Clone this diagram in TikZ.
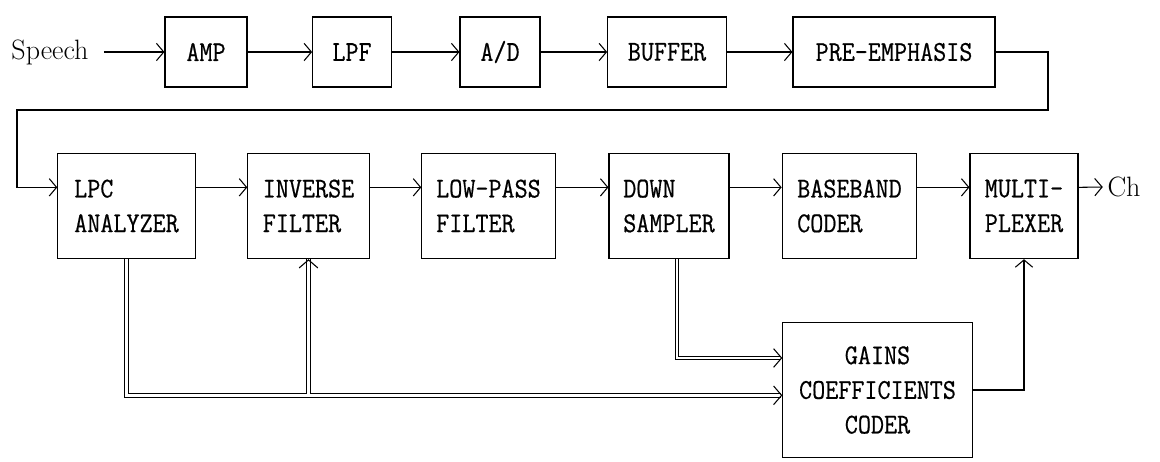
\documentclass[tikz,border=0pt]{standalone}
\usepackage{fontspec}
\usepackage{tikz}
\usetikzlibrary{arrows.meta,positioning,calc}
\newfontfamily\boxfont[FakeBold=0.6,FakeStretch=0.885]{Latin Modern Mono}
\tikzset{
  blockbox/.style={draw, line width=0.8pt, align=left, inner sep=0pt,
    font=\boxfont\fontsize{21.5}{26}\selectfont},
  topbox/.style={blockbox, minimum height=52.5pt},
  midbox/.style={blockbox, minimum height=79pt},
  plain/.style={font=\fontsize{21}{26}\selectfont},
  arr/.style={-{Straight Barb[length=5.5pt, width=13pt]}, line width=0.8pt},
  dbl/.style={double, double distance=2.2pt, line width=0.7pt},
  dblarr/.style={dbl, -{Straight Barb[length=6pt, width=14pt, line width=0.8pt]}},
  line/.style={line width=0.8pt}
}

\begin{document}
\begin{tikzpicture}[x=0.75pt,y=-0.75pt]
  \useasboundingbox (0,0) rectangle (1160,461);
  % front end
  \node[plain] (speech) at (50,52) {Speech};
  \foreach \name/\x/\w/\lab in {
    amp/206/61.5pt/AMP,
    lpf/352/59pt/LPF,
    ad/500/60pt/{A/D},
    buf/667/89pt/BUFFER,
    pre/894/151.5pt/PRE-EMPHASIS} {
    \node[topbox, minimum width=\w] (\name) at (\x,52) {\lab};
  }
  \draw[arr, shorten <=8pt] (speech) -- (amp);
  \foreach \a/\b in {amp/lpf, lpf/ad, ad/buf, buf/pre}
    \draw[arr] (\a) -- (\b);

  % analysis chain
  \foreach \name/\x/\w/\lab in {
    lpc/126.5/103pt/{LPC\\ANALYZER},
    inv/308.5/91pt/{INVERSE\\FILTER},
    lpass/488.5/100pt/{LOW-PASS\\FILTER},
    down/669/90pt/{DOWN\\SAMPLER},
    base/849.5/101pt/{BASEBAND\\CODER},
    mux/1024/81pt/{MULTI-\\PLEXER}} {
    \node[midbox, minimum width=\w] (\name) at (\x,206) {\lab};
  }
  \node[plain] (ch) at (1124,187) {Ch};
  \node[blockbox, align=center, minimum width=142pt, minimum height=101pt]
    (gains) at (877.5,390) {GAINS\\COEFFICIENTS\\CODER};

  \coordinate (loopR) at (1048,110);
  \coordinate (loopL) at (17,110);
  \draw[arr] (pre.east) -| (loopR) -- (loopL) |- ([yshift=14pt]lpc.west);
  \foreach \a/\b in {lpc/inv, inv/lpass, lpass/down, down/base, base/mux}
    \draw[arr] ([yshift=14pt]\a.east) -- ([yshift=14pt]\b.west);
  \draw[arr] ([yshift=14pt]mux.east) -- (ch.west);
  \draw[arr] (gains.east) -| (mux.south);

  % side information
  \coordinate (busin) at ([yshift=-4pt]gains.west);
  \coordinate (dsin) at ([yshift=24pt]gains.west);
  \draw[dblarr] ([xshift=6pt]down.south) |- (dsin);
  \draw[dblarr] (inv.south |- busin) -- (inv.south)
    (lpc.south) |- (busin);
  \draw[dblarr] ([yshift=-10pt]inv.south) -- (inv.south);
\end{tikzpicture}
\end{document}
